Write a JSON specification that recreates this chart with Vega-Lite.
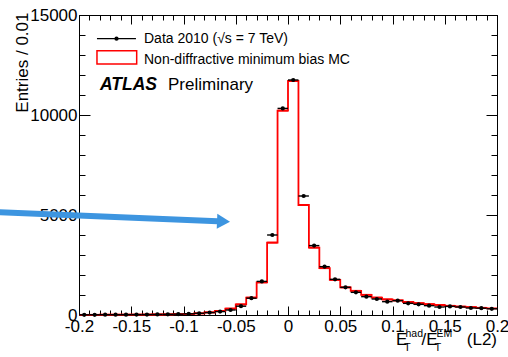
{
  "$schema": "https://vega.github.io/schema/vega-lite/v6.json",
  "width": 418,
  "height": 300,
  "autosize": {"type": "none"},
  "padding": {"left": 79, "top": 15, "right": 11, "bottom": 42},
  "background": "white",
  "config": {
    "view": {"stroke": "black", "strokeWidth": 1},
    "font": "Liberation Sans",
    "axis": {"domainColor": "black", "tickColor": "black", "labelColor": "black", "titleColor": "black", "tickWidth": 1, "domainWidth": 1, "grid": false, "labelFont": "Liberation Sans", "titleFont": "Liberation Sans"}
  },
  "datasets": {
    "hist": [
      {"lo": -0.20, "hi": -0.19, "x": -0.195, "data": 10, "mc": 8},
      {"lo": -0.19, "hi": -0.18, "x": -0.185, "data": 12, "mc": 10},
      {"lo": -0.18, "hi": -0.17, "x": -0.175, "data": 14, "mc": 12},
      {"lo": -0.17, "hi": -0.16, "x": -0.165, "data": 16, "mc": 14},
      {"lo": -0.16, "hi": -0.15, "x": -0.155, "data": 18, "mc": 16},
      {"lo": -0.15, "hi": -0.14, "x": -0.145, "data": 20, "mc": 18},
      {"lo": -0.14, "hi": -0.13, "x": -0.135, "data": 24, "mc": 22},
      {"lo": -0.13, "hi": -0.12, "x": -0.125, "data": 28, "mc": 26},
      {"lo": -0.12, "hi": -0.11, "x": -0.115, "data": 34, "mc": 32},
      {"lo": -0.11, "hi": -0.10, "x": -0.105, "data": 42, "mc": 40},
      {"lo": -0.10, "hi": -0.09, "x": -0.095, "data": 60, "mc": 55},
      {"lo": -0.09, "hi": -0.08, "x": -0.085, "data": 85, "mc": 80},
      {"lo": -0.08, "hi": -0.07, "x": -0.075, "data": 120, "mc": 130},
      {"lo": -0.07, "hi": -0.06, "x": -0.065, "data": 170, "mc": 200},
      {"lo": -0.06, "hi": -0.05, "x": -0.055, "data": 250, "mc": 320},
      {"lo": -0.05, "hi": -0.04, "x": -0.045, "data": 440, "mc": 530},
      {"lo": -0.04, "hi": -0.03, "x": -0.035, "data": 840, "mc": 870},
      {"lo": -0.03, "hi": -0.02, "x": -0.025, "data": 1680, "mc": 1630},
      {"lo": -0.02, "hi": -0.01, "x": -0.015, "data": 4000, "mc": 3620},
      {"lo": -0.01, "hi": 0.0, "x": -0.005, "data": 10330, "mc": 10220},
      {"lo": 0.0, "hi": 0.01, "x": 0.005, "data": 11750, "mc": 11700},
      {"lo": 0.01, "hi": 0.02, "x": 0.015, "data": 5950, "mc": 5500},
      {"lo": 0.02, "hi": 0.03, "x": 0.025, "data": 3470, "mc": 3370},
      {"lo": 0.03, "hi": 0.04, "x": 0.035, "data": 2417, "mc": 2340},
      {"lo": 0.04, "hi": 0.05, "x": 0.045, "data": 1783, "mc": 1760},
      {"lo": 0.05, "hi": 0.06, "x": 0.055, "data": 1383, "mc": 1380},
      {"lo": 0.06, "hi": 0.07, "x": 0.065, "data": 1133, "mc": 1210},
      {"lo": 0.07, "hi": 0.08, "x": 0.075, "data": 917, "mc": 1010},
      {"lo": 0.08, "hi": 0.09, "x": 0.085, "data": 800, "mc": 870},
      {"lo": 0.09, "hi": 0.10, "x": 0.095, "data": 667, "mc": 780},
      {"lo": 0.10, "hi": 0.11, "x": 0.105, "data": 717, "mc": 730},
      {"lo": 0.11, "hi": 0.12, "x": 0.115, "data": 583, "mc": 650},
      {"lo": 0.12, "hi": 0.13, "x": 0.125, "data": 533, "mc": 590},
      {"lo": 0.13, "hi": 0.14, "x": 0.135, "data": 467, "mc": 540},
      {"lo": 0.14, "hi": 0.15, "x": 0.145, "data": 400, "mc": 500},
      {"lo": 0.15, "hi": 0.16, "x": 0.155, "data": 430, "mc": 460},
      {"lo": 0.16, "hi": 0.17, "x": 0.165, "data": 400, "mc": 420},
      {"lo": 0.17, "hi": 0.18, "x": 0.175, "data": 350, "mc": 390},
      {"lo": 0.18, "hi": 0.19, "x": 0.185, "data": 340, "mc": 360},
      {"lo": 0.19, "hi": 0.20, "x": 0.195, "data": 310, "mc": 330}
    ]
  },
  "layer": [
    {
      "data": {"name": "hist"},
      "mark": {"type": "line", "interpolate": "step-after", "color": "#ff0000", "strokeWidth": 1.8},
      "encoding": {
        "x": {"field": "lo", "type": "quantitative", "scale": {"domain": [-0.2, 0.2], "nice": false, "zero": false},
          "axis": {"orient": "bottom", "title": null,
            "values": [-0.2,-0.19,-0.18,-0.17,-0.16,-0.15,-0.14,-0.13,-0.12,-0.11,-0.1,-0.09,-0.08,-0.07,-0.06,-0.05,-0.04,-0.03,-0.02,-0.01,0,0.01,0.02,0.03,0.04,0.05,0.06,0.07,0.08,0.09,0.1,0.11,0.12,0.13,0.14,0.15,0.16,0.17,0.18,0.19,0.2],
            "labelExpr": "abs(round(datum.value*100)) % 5 == 0 ? '' + datum.value : ''",
            "tickSize": {"condition": {"test": "abs(round(datum.value*100)) % 5 == 0", "value": -9}, "value": -5},
            "labelPadding": 12, "labelFlush": false, "labelOverlap": false, "labelFontSize": 17}},
        "y": {"field": "mc", "type": "quantitative", "scale": {"domain": [0, 15000], "nice": false, "zero": false},
          "axis": {"orient": "left", "title": "Entries / 0.01",
            "values": [0,1000,2000,3000,4000,5000,6000,7000,8000,9000,10000,11000,12000,13000,14000,15000],
            "labelExpr": "datum.value % 5000 == 0 ? '' + datum.value : ''",
            "tickSize": {"condition": {"test": "datum.value % 5000 == 0", "value": -11}, "value": -6},
            "labelPadding": 13, "labelOverlap": false, "labelFlush": false, "labelFontSize": 17,
            "titleFontSize": 17, "titleFontWeight": "normal", "titleAngle": -90, "titleAlign": "right", "titleBaseline": "alphabetic", "titleX": -52, "titleY": -3}}
      }
    },
    {
      "data": {"name": "hist"},
      "mark": {"type": "rule", "color": "#ff0000", "strokeWidth": 1.8},
      "encoding": {
        "x": {"field": "lo", "type": "quantitative", "scale": {"domain": [-0.2, 0.2], "nice": false, "zero": false}, "axis": null},
        "x2": {"field": "hi"},
        "y": {"field": "mc", "type": "quantitative", "scale": {"domain": [0, 15000], "nice": false, "zero": false}, "axis": null}
      }
    },
    {
      "data": {"name": "hist"},
      "mark": {"type": "rule", "color": "black", "strokeWidth": 1.4},
      "encoding": {
        "x": {"field": "lo", "type": "quantitative", "scale": {"domain": [-0.2, 0.2], "nice": false, "zero": false}, "axis": null},
        "x2": {"field": "hi"},
        "y": {"field": "data", "type": "quantitative", "scale": {"domain": [0, 15000], "nice": false, "zero": false}, "axis": null}
      }
    },
    {
      "data": {"name": "hist"},
      "mark": {"type": "point", "filled": true, "color": "black", "size": 18, "opacity": 1},
      "encoding": {
        "x": {"field": "x", "type": "quantitative", "scale": {"domain": [-0.2, 0.2], "nice": false, "zero": false}, "axis": null},
        "y": {"field": "data", "type": "quantitative", "scale": {"domain": [0, 15000], "nice": false, "zero": false}, "axis": null}
      }
    },
    {
      "data": {"name": "hist"},
      "mark": {"type": "point", "opacity": 0},
      "encoding": {
        "x": {"field": "x", "type": "quantitative", "scale": {"domain": [-0.2, 0.2], "nice": false, "zero": false},
          "axis": {"orient": "top", "title": null, "labels": false,
            "values": [-0.2,-0.19,-0.18,-0.17,-0.16,-0.15,-0.14,-0.13,-0.12,-0.11,-0.1,-0.09,-0.08,-0.07,-0.06,-0.05,-0.04,-0.03,-0.02,-0.01,0,0.01,0.02,0.03,0.04,0.05,0.06,0.07,0.08,0.09,0.1,0.11,0.12,0.13,0.14,0.15,0.16,0.17,0.18,0.19,0.2],
            "tickSize": {"condition": {"test": "abs(round(datum.value*100)) % 5 == 0", "value": -9}, "value": -5}}},
        "y": {"field": "data", "type": "quantitative", "scale": {"domain": [0, 15000], "nice": false, "zero": false},
          "axis": {"orient": "right", "title": null, "labels": false,
            "values": [0,1000,2000,3000,4000,5000,6000,7000,8000,9000,10000,11000,12000,13000,14000,15000],
            "tickSize": {"condition": {"test": "datum.value % 5000 == 0", "value": -11}, "value": -6}}}
      }
    },
    {
      "data": {"values": [{"label": "Data 2010 (√s = 7 TeV)"}]},
      "mark": {"type": "rule", "color": "black", "strokeWidth": 1.4},
      "encoding": {
        "x": {"datum": -0.1828, "type": "quantitative", "scale": {"domain": [-0.2, 0.2], "nice": false, "zero": false}, "axis": null},
        "x2": {"datum": -0.1455},
        "y": {"datum": 13817, "type": "quantitative", "scale": {"domain": [0, 15000], "nice": false, "zero": false}, "axis": null}
      }
    },
    {
      "data": {"values": [{"label": "Data 2010 (√s = 7 TeV)"}]},
      "mark": {"type": "point", "filled": true, "color": "black", "size": 18, "opacity": 1},
      "encoding": {
        "x": {"datum": -0.1641, "type": "quantitative", "scale": {"domain": [-0.2, 0.2], "nice": false, "zero": false}, "axis": null},
        "y": {"datum": 13817, "type": "quantitative", "scale": {"domain": [0, 15000], "nice": false, "zero": false}, "axis": null}
      }
    },
    {
      "data": {"values": [{"label": "Data 2010 (√s = 7 TeV)"}]},
      "mark": {"type": "text", "align": "left", "baseline": "alphabetic", "fontSize": 14, "color": "black"},
      "encoding": {
        "x": {"datum": -0.1378, "type": "quantitative", "scale": {"domain": [-0.2, 0.2], "nice": false, "zero": false}, "axis": null},
        "y": {"datum": 13583, "type": "quantitative", "scale": {"domain": [0, 15000], "nice": false, "zero": false}, "axis": null},
        "text": {"field": "label"}
      }
    },
    {
      "data": {"values": [{"label": "Non-diffractive minimum bias MC"}]},
      "mark": {"type": "rect", "fillOpacity": 0, "stroke": "#ff0000", "strokeWidth": 1.5},
      "encoding": {
        "x": {"datum": -0.1828, "type": "quantitative", "scale": {"domain": [-0.2, 0.2], "nice": false, "zero": false}, "axis": null},
        "x2": {"datum": -0.1448},
        "y": {"datum": 13215, "type": "quantitative", "scale": {"domain": [0, 15000], "nice": false, "zero": false}, "axis": null},
        "y2": {"datum": 12550}
      }
    },
    {
      "data": {"values": [{"label": "Non-diffractive minimum bias MC"}]},
      "mark": {"type": "text", "align": "left", "baseline": "alphabetic", "fontSize": 14, "color": "black"},
      "encoding": {
        "x": {"datum": -0.1378, "type": "quantitative", "scale": {"domain": [-0.2, 0.2], "nice": false, "zero": false}, "axis": null},
        "y": {"datum": 12550, "type": "quantitative", "scale": {"domain": [0, 15000], "nice": false, "zero": false}, "axis": null},
        "text": {"field": "label"}
      }
    },
    {
      "data": {"values": [{"label": "ATLAS"}]},
      "mark": {"type": "text", "align": "left", "baseline": "alphabetic", "fontSize": 17.5, "fontWeight": "bold", "fontStyle": "italic", "color": "black"},
      "encoding": {
        "x": {"datum": -0.1799, "type": "quantitative", "scale": {"domain": [-0.2, 0.2], "nice": false, "zero": false}, "axis": null},
        "y": {"datum": 11250, "type": "quantitative", "scale": {"domain": [0, 15000], "nice": false, "zero": false}, "axis": null},
        "text": {"field": "label"}
      }
    },
    {
      "data": {"values": [{"label": "Preliminary"}]},
      "mark": {"type": "text", "align": "left", "baseline": "alphabetic", "fontSize": 17, "color": "black"},
      "encoding": {
        "x": {"datum": -0.1148, "type": "quantitative", "scale": {"domain": [-0.2, 0.2], "nice": false, "zero": false}, "axis": null},
        "y": {"datum": 11250, "type": "quantitative", "scale": {"domain": [0, 15000], "nice": false, "zero": false}, "axis": null},
        "text": {"field": "label"}
      }
    },
    {
      "data": {"values": [{"label": "E"}]},
      "mark": {"type": "text", "align": "left", "baseline": "alphabetic", "fontSize": 17, "color": "black"},
      "encoding": {
        "x": {"datum": 0.1033, "type": "quantitative", "scale": {"domain": [-0.2, 0.2], "nice": false, "zero": false}, "axis": null},
        "y": {"datum": -1500, "type": "quantitative", "scale": {"domain": [0, 15000], "nice": false, "zero": false}, "axis": null},
        "text": {"field": "label"}
      }
    },
    {
      "data": {"values": [{"label": "T"}]},
      "mark": {"type": "text", "align": "left", "baseline": "alphabetic", "fontSize": 11, "color": "black"},
      "encoding": {
        "x": {"datum": 0.1110, "type": "quantitative", "scale": {"domain": [-0.2, 0.2], "nice": false, "zero": false}, "axis": null},
        "y": {"datum": -1800, "type": "quantitative", "scale": {"domain": [0, 15000], "nice": false, "zero": false}, "axis": null},
        "text": {"field": "label"}
      }
    },
    {
      "data": {"values": [{"label": "had"}]},
      "mark": {"type": "text", "align": "left", "baseline": "alphabetic", "fontSize": 10.5, "color": "black"},
      "encoding": {
        "x": {"datum": 0.1124, "type": "quantitative", "scale": {"domain": [-0.2, 0.2], "nice": false, "zero": false}, "axis": null},
        "y": {"datum": -1100, "type": "quantitative", "scale": {"domain": [0, 15000], "nice": false, "zero": false}, "axis": null},
        "text": {"field": "label"}
      }
    },
    {
      "data": {"values": [{"label": "/E"}]},
      "mark": {"type": "text", "align": "left", "baseline": "alphabetic", "fontSize": 17, "color": "black"},
      "encoding": {
        "x": {"datum": 0.1277, "type": "quantitative", "scale": {"domain": [-0.2, 0.2], "nice": false, "zero": false}, "axis": null},
        "y": {"datum": -1500, "type": "quantitative", "scale": {"domain": [0, 15000], "nice": false, "zero": false}, "axis": null},
        "text": {"field": "label"}
      }
    },
    {
      "data": {"values": [{"label": "T"}]},
      "mark": {"type": "text", "align": "left", "baseline": "alphabetic", "fontSize": 11, "color": "black"},
      "encoding": {
        "x": {"datum": 0.1402, "type": "quantitative", "scale": {"domain": [-0.2, 0.2], "nice": false, "zero": false}, "axis": null},
        "y": {"datum": -1800, "type": "quantitative", "scale": {"domain": [0, 15000], "nice": false, "zero": false}, "axis": null},
        "text": {"field": "label"}
      }
    },
    {
      "data": {"values": [{"label": "EM"}]},
      "mark": {"type": "text", "align": "left", "baseline": "alphabetic", "fontSize": 10.5, "color": "black"},
      "encoding": {
        "x": {"datum": 0.1421, "type": "quantitative", "scale": {"domain": [-0.2, 0.2], "nice": false, "zero": false}, "axis": null},
        "y": {"datum": -1100, "type": "quantitative", "scale": {"domain": [0, 15000], "nice": false, "zero": false}, "axis": null},
        "text": {"field": "label"}
      }
    },
    {
      "data": {"values": [{"label": "(L2)"}]},
      "mark": {"type": "text", "align": "right", "baseline": "alphabetic", "fontSize": 17, "color": "black"},
      "encoding": {
        "x": {"datum": 0.2, "type": "quantitative", "scale": {"domain": [-0.2, 0.2], "nice": false, "zero": false}, "axis": null},
        "y": {"datum": -1500, "type": "quantitative", "scale": {"domain": [0, 15000], "nice": false, "zero": false}, "axis": null},
        "text": {"field": "label"}
      }
    },
    {
      "data": {"values": [{"label": "arrow"}]},
      "mark": {"type": "rule", "color": "#3d95e0", "strokeWidth": 6, "strokeCap": "butt"},
      "encoding": {
        "x": {"datum": -0.2852, "type": "quantitative", "scale": {"domain": [-0.2, 0.2], "nice": false, "zero": false}, "axis": null},
        "x2": {"datum": -0.0617},
        "y": {"datum": 5155, "type": "quantitative", "scale": {"domain": [0, 15000], "nice": false, "zero": false}, "axis": null},
        "y2": {"datum": 4680}
      }
    },
    {
      "data": {"values": [{"label": "arrow"}]},
      "mark": {"type": "point", "shape": "triangle-right", "filled": true, "color": "#3d95e0", "size": 225, "angle": 2.3, "opacity": 1},
      "encoding": {
        "x": {"datum": -0.0617, "type": "quantitative", "scale": {"domain": [-0.2, 0.2], "nice": false, "zero": false}, "axis": null},
        "y": {"datum": 4680, "type": "quantitative", "scale": {"domain": [0, 15000], "nice": false, "zero": false}, "axis": null}
      }
    }
  ],
  "resolve": {"axis": {"x": "independent", "y": "independent"}}
}
